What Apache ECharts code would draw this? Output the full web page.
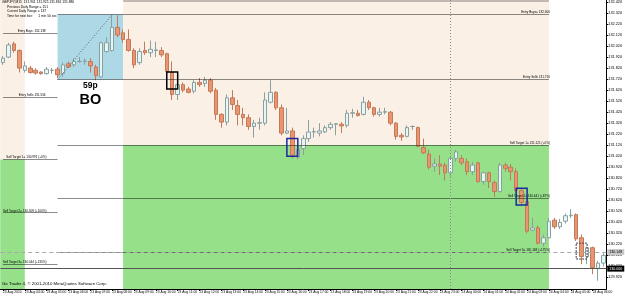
<!DOCTYPE html>
<html><head><meta charset="utf-8">
<script src="https://cdn.jsdelivr.net/npm/echarts@6/dist/echarts.min.js"></script>
<style>html,body{margin:0;padding:0;background:#fff}#c{width:625px;height:296px}</style>
</head><body><div id="c"></div>
<script>
// ---- categories: 15-minute bars, 23 Aug 2010 03:00 .. 24 Aug 2010 06:30
const barCount = 111;
const categories = [];
for (let i = 0; i < barCount; i++) {
  const m = 3 * 60 + i * 15;
  const day = 23 + Math.floor(m / 1440);
  const mm = m % 1440;
  const hh = String(Math.floor(mm / 60)).padStart(2, '0');
  const mi = String(mm % 60).padStart(2, '0');
  categories.push(i === 0 ? '23 Aug 2010' : day + ' Aug ' + hh + ':' + mi);
}
// ---- candles [open, close, low, high]
const candles = [
[131.87,131.91,131.85,131.93],[131.92,132.03,131.91,132.05],[132.04,131.98,131.96,132.06],[131.98,131.82,131.78,131.99],
[131.80,131.84,131.78,131.88],[131.82,131.78,131.77,131.84],[131.80,131.775,131.76,131.82],[131.785,131.77,131.76,131.79],
[131.77,131.81,131.76,131.83],[131.80,131.80,131.77,131.82],[131.81,131.76,131.73,131.83],[131.77,131.85,131.74,131.87],
[131.86,131.83,131.82,131.88],[131.85,131.88,131.83,131.91],[131.88,131.88,131.87,131.92],[131.88,131.885,131.85,131.91],
[131.88,131.84,131.78,131.91],[131.83,131.75,131.71,131.85],[131.74,132.05,131.73,132.06],[131.97,132.05,131.96,132.10],
[131.98,132.19,131.97,132.30],[132.19,132.12,132.10,132.30],[132.14,132.08,132.05,132.17],[132.08,131.98,131.97,132.17],
[131.98,131.85,131.82,132.00],[131.87,131.97,131.85,132.00],[131.98,131.96,131.94,132.06],[131.96,131.99,131.92,132.07],
[131.98,131.985,131.92,132.06],[131.98,131.94,131.92,132.01],[131.95,131.79,131.78,131.96],[131.78,131.58,131.53,131.88],
[131.58,131.67,131.53,131.69],[131.67,131.62,131.60,131.69],[131.63,131.60,131.59,131.65],[131.61,131.69,131.59,131.71],
[131.69,131.67,131.65,131.73],[131.68,131.71,131.65,131.74],[131.71,131.61,131.59,131.73],[131.62,131.40,131.35,131.64],
[131.40,131.33,131.28,131.41],[131.33,131.55,131.30,131.58],[131.55,131.49,131.44,131.62],[131.48,131.40,131.30,131.53],
[131.40,131.37,131.30,131.46],[131.37,131.29,131.26,131.40],[131.29,131.32,131.19,131.35],[131.32,131.325,131.26,131.37],
[131.32,131.53,131.30,131.60],[131.51,131.60,131.50,131.71],[131.60,131.46,131.44,131.61],[131.46,131.23,131.21,131.49],
[131.23,131.25,131.22,131.46],[131.25,131.03,131.00,131.28],[131.01,131.08,130.99,131.09],[131.09,131.18,131.03,131.21],
[131.18,131.24,131.15,131.35],[131.24,131.245,131.19,131.28],[131.23,131.25,131.20,131.32],[131.24,131.28,131.23,131.30],
[131.28,131.31,131.26,131.33],[131.31,131.315,131.21,131.32],[131.31,131.295,131.23,131.33],[131.30,131.41,131.28,131.44],
[131.41,131.415,131.37,131.45],[131.41,131.39,131.38,131.44],[131.40,131.51,131.39,131.56],[131.51,131.46,131.44,131.53],
[131.46,131.40,131.38,131.47],[131.40,131.42,131.38,131.46],[131.42,131.425,131.40,131.46],[131.42,131.32,131.30,131.43],
[131.32,131.20,131.17,131.33],[131.21,131.195,131.16,131.23],[131.20,131.28,131.19,131.30],[131.29,131.29,131.26,131.30],
[131.28,131.11,131.10,131.29],[131.10,131.05,131.04,131.18],[131.04,130.92,130.90,131.08],[130.93,130.95,130.88,131.00],
[130.95,130.93,130.85,131.03],[130.94,130.87,130.80,130.96],[130.87,131.00,130.83,131.02],[131.00,131.06,130.97,131.08],
[131.00,130.96,130.94,131.03],[130.97,130.88,130.85,131.00],[130.88,130.94,130.85,130.97],[130.96,130.79,130.78,130.97],
[130.79,130.87,130.76,130.88],[130.87,130.79,130.73,130.88],[130.78,130.70,130.65,130.80],[130.70,130.94,130.69,130.96],
[130.94,130.91,130.88,130.96],[130.92,130.88,130.80,130.95],[130.88,130.71,130.69,130.91],[130.71,130.60,130.57,130.73],
[130.61,130.34,130.32,130.64],[130.35,130.37,130.34,130.46],[130.37,130.23,130.22,130.39],[130.23,130.28,130.20,130.31],
[130.28,130.43,130.27,130.46],[130.44,130.38,130.36,130.46],[130.38,130.42,130.36,130.45],[130.43,130.48,130.41,130.50],
[130.48,130.485,130.46,130.54],[130.49,130.27,130.25,130.50],[130.28,130.11,130.04,130.31],[130.11,130.19,130.04,130.20],
[130.19,130.01,129.95,130.20],[130.00,130.05,129.89,130.07],[130.05,130.12,130.02,130.14]
];
// ---- price axis tick labels
const yTicks = [132.42,132.32,132.22,132.12,132.02,131.92,131.82,131.72,131.62,131.52,131.42,131.32,131.22,131.12,
  131.02,130.92,130.82,130.72,130.62,130.52,130.42,130.32,130.22,130.12,130.02,129.92];
// ---- levels (today)
const entryBuys = 132.306, entrySells = 131.716, topLevel = 132.434;
const sellTargets = [131.121, 130.641, 130.148];
const sellTargetPct = ['+0%', '+87%', '+175%'];
// ---- levels (previous session)
const prevEntryBuys = 132.138, prevEntrySells = 131.556;
const prevTargets = [130.991, 130.508, 130.044];
const prevTargetPct = ['+0%', '+100%', '+135%'];
// ---- other
const boPips = 59;
const bidPrice = 130.148, linePrice = 130.000;
const boStart = 10, boEnd = 22, zoneEnd = 100, prevEnd = 4, prevLineEnd = 10, separatorIdx = 82;
const markBoxes = [ // [fromIdx, toIdx, high, low, color, style]
  [30, 32, 131.785, 131.63, '#000000', 'solid'],
  [52, 54, 131.18, 131.02, '#1a2a9c', 'solid'],
  [94, 96, 130.73, 130.577, '#1a2a9c', 'solid'],
  [105, 107, 130.23, 130.087, '#555566', 'dotted']
];

const C = i => categories[i];
const tiny = 3.1;
const lineCol = 'rgba(0,0,0,0.45)';
function seg(a, b, v, text, dist) {
  return [{coord: [C(a), v], label: {show: !!text, formatter: text || '', position: 'insideEndTop', distance: dist || [-1, 0.5], fontSize: tiny, color: '#000', fontFamily: 'Liberation Sans'}},
          {coord: [C(b), v]}];
}
const lines = [
  seg(boStart, zoneEnd, entryBuys, 'Entry Buys= ' + entryBuys.toFixed(3)),
  seg(boStart, zoneEnd, entrySells, 'Entry Sells ' + entrySells.toFixed(3)),
  seg(0, prevLineEnd, prevEntryBuys, 'Entry Buys: ' + prevEntryBuys.toFixed(3), [12, 0.5]),
  seg(0, prevLineEnd, prevEntrySells, 'Entry Sells ' + prevEntrySells.toFixed(3), [12, 0.5]),
  [{coord: [C(boEnd), topLevel], lineStyle: {color: 'rgba(0,0,0,0.3)', width: 1.5}, label: {show: false}}, {coord: [C(zoneEnd), topLevel]}]
];
sellTargets.forEach((v, k) => lines.push(seg(boStart, zoneEnd, v, 'Sell Target ' + (k + 1) + '= ' + v.toFixed(3) + ' (' + sellTargetPct[k] + ')')));
prevTargets.forEach((v, k) => lines.push(seg(0, prevLineEnd, v, 'Sell Target ' + (k + 1) + '= ' + v.toFixed(3) + ' (' + prevTargetPct[k] + ')', [11, 0.5])));
lines.push([{coord: [C(boStart), entrySells], lineStyle: {type: [1, 2], color: '#555', width: 1}, label: {show: false}}, {coord: [C(20), entryBuys]}]);
lines.push({xAxis: C(separatorIdx), lineStyle: {type: [1, 2], color: '#888', width: 1}, label: {show: false}});
lines.push({yAxis: bidPrice, lineStyle: {type: [4, 3], color: '#aaaaaa', width: 1},
  label: {show: true, position: 'end', formatter: bidPrice.toFixed(3), fontSize: 3.6, color: '#000', backgroundColor: '#c8c8c8', padding: [1, 2], distance: 1}});
lines.push({yAxis: linePrice, lineStyle: {type: 'solid', color: '#555', width: 1},
  label: {show: true, position: 'end', formatter: linePrice.toFixed(3), fontSize: 3.6, color: '#fff', backgroundColor: '#000', padding: [1, 2], distance: 1}});

const zones = [
  [{xAxis: C(boStart), yAxis: entrySells, itemStyle: {color: '#add8e6'}}, {xAxis: C(boEnd), yAxis: entryBuys}],
  [{xAxis: C(boEnd), yAxis: sellTargets[0], itemStyle: {color: '#faf0e6'}}, {xAxis: C(zoneEnd)}],
  [{xAxis: C(boEnd), itemStyle: {color: '#96e08a'}}, {xAxis: C(zoneEnd), yAxis: sellTargets[0]}],
  [{yAxis: prevTargets[0], itemStyle: {color: '#faf0e6'}}, {xAxis: C(prevEnd)}],
  [{itemStyle: {color: '#96e08a'}}, {xAxis: C(prevEnd), yAxis: prevTargets[0]}]
];
const boxes = markBoxes.map(b => [
  {xAxis: C(b[0]), yAxis: b[2], itemStyle: {color: 'rgba(0,0,0,0)', borderColor: b[4], borderWidth: 1.5, borderType: b[5]}},
  {xAxis: C(b[1]), yAxis: b[3]}
]);
const infoStyle = {fontSize: 3.3, fill: '#000', fontFamily: 'Liberation Sans'};

const chart = echarts.init(document.getElementById('c'), null, {renderer: 'canvas'});
chart.setOption({
  animation: false,
  backgroundColor: '#ffffff',
  grid: {left: -2, right: 14.5, top: 0, bottom: 7},
  xAxis: {
    type: 'category', data: categories, boundaryGap: true,
    axisLine: {show: true, lineStyle: {color: '#000', width: 1}},
    axisTick: {show: true, interval: 3, alignWithLabel: true, length: 2, lineStyle: {color: '#000'}},
    axisLabel: {interval: 3, fontSize: 3.3, color: '#000', align: 'left', margin: 2, fontFamily: 'Liberation Sans'},
    splitLine: {show: false}
  },
  yAxis: {
    type: 'value', position: 'right', min: 129.815, max: 132.438, scale: true,
    axisLine: {show: true, lineStyle: {color: '#000', width: 1}},
    axisTick: {show: true, length: 2, customValues: yTicks, lineStyle: {color: '#000'}},
    axisLabel: {customValues: yTicks, fontSize: 3.8, color: '#000', margin: 2, formatter: v => v.toFixed(3), fontFamily: 'Liberation Sans'},
    splitLine: {show: false}
  },
  graphic: {elements: [
    {type: 'text', left: 2, top: 1, z: 100, style: Object.assign({text: 'GBPJPY,M15  131.901 131.925 131.861 131.886'}, infoStyle)},
    {type: 'text', left: 7, top: 5.5, z: 100, style: Object.assign({text: 'Previous Daily Range = 151'}, infoStyle)},
    {type: 'text', left: 7, top: 10, z: 100, style: Object.assign({text: 'Current Daily Range = 137'}, infoStyle)},
    {type: 'text', left: 7, top: 14.5, z: 100, style: Object.assign({text: 'Time for next bar:      1 min 50 sec'}, infoStyle)},
    {type: 'text', left: 2, top: 282, z: 100, style: Object.assign({}, infoStyle, {text: 'Go Trader 4, \u00a9 2001-2010 MetaQuotes Software Corp.', fontSize: 4.3})}
  ]},
  series: [
    {
      type: 'candlestick', data: candles, barWidth: 4, z: 3,
      itemStyle: {color: '#e6f6f5', color0: '#ea9470', borderColor: '#8aa0a0', borderColor0: '#c27a5a', borderColorDoji: '#8a9a9a', borderWidth: 1},
      markArea: {silent: true, z: 1, data: zones},
      markLine: {silent: true, symbol: ['none', 'none'], z: 4, lineStyle: {color: lineCol, width: 1, type: 'solid'}, label: {show: false}, data: lines},
      markPoint: {silent: true, symbol: 'circle', symbolSize: 1, itemStyle: {color: 'rgba(0,0,0,0)'}, z: 10, data: [
        {coord: [C(16), 131.665], label: {show: true, position: 'inside', formatter: boPips + 'p', fontSize: 8.5, fontWeight: 'bold', color: '#000', fontFamily: 'Liberation Sans'}},
        {coord: [C(16), 131.53], label: {show: true, position: 'inside', formatter: 'BO', fontSize: 14.5, fontWeight: 'bold', color: '#000', fontFamily: 'Liberation Sans'}}
      ]}
    },
    {
      type: 'line', data: [], z: 6,
      markArea: {silent: true, z: 6, data: boxes}
    }
  ]
});
</script></body></html>
